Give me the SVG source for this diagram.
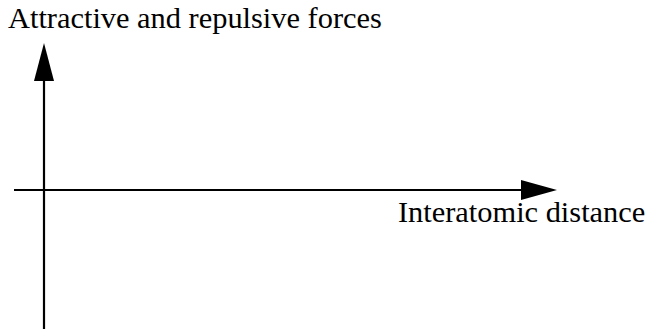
<svg xmlns="http://www.w3.org/2000/svg" width="650" height="329" viewBox="0 0 650 329">
<style>
.ax{stroke:#000;stroke-width:2.2;fill:none}
.t{font-family:"Liberation Serif","Times New Roman",serif;font-size:30.4px;fill:#000}
</style>
<rect width="650" height="329" fill="#fff"/>
<g id="connectors">
<line class="ax" x1="44" y1="329" x2="44" y2="78"/>
<polygon points="44,43 54,81 34,81" fill="#000"/>
<line class="ax" x1="14" y1="190" x2="524" y2="190"/>
<polygon points="557,190 521,180 521,200" fill="#000"/>
</g>
<g id="label-y"><text class="t" x="8" y="28">Attractive and repulsive forces</text></g>
<g id="label-x"><text class="t" x="398" y="222">Interatomic distance</text></g>
</svg>
